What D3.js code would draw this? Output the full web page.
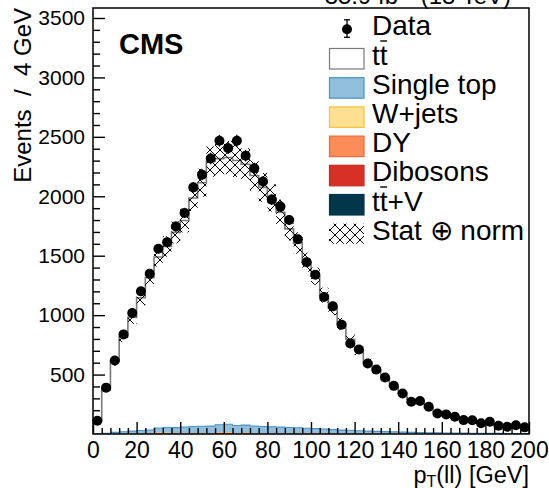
<!DOCTYPE html>
<html>
<head>
<meta charset="utf-8">
<script src="https://cdn.jsdelivr.net/npm/d3@7"></script>
<style>
  body { margin: 0; background: #fff; }
  text { font-family: "Liberation Sans", Arial, sans-serif; }
</style>
</head>
<body>
<svg id="chart" width="549" height="488"></svg>
<script>
// 50 bins of 4 GeV, 0..200
const binWidth = 4;
const xRange = [0, 200];

const dataCounts = [112, 390, 618, 838, 1018, 1200, 1348, 1558, 1614, 1745,
  1860, 2075, 2182, 2318, 2467, 2405, 2467, 2341, 2235, 2125,
  1972, 1913, 1801, 1638, 1446, 1340, 1152, 1074, 920, 761,
  711, 593, 543, 476, 405, 341, 271, 277, 229, 173,
  165, 145, 117, 115, 90, 103, 70, 61, 73, 56];

const ttbar = [113, 369, 596, 799, 957, 1117, 1282, 1439, 1523, 1642,
  1737, 1923, 2049, 2226, 2239, 2244, 2229, 2195, 2108, 2012,
  1925, 1808, 1671, 1555, 1398, 1283, 1127, 1021, 894, 766,
  675, 578, 510, 447, 384, 326, 278, 247, 210, 178,
  155, 136, 117, 104, 90, 79, 69, 61, 54, 48];

const singleTop = [2, 5, 12, 18, 22, 26, 30, 38, 45, 50,
  55, 58, 60, 62, 65, 68, 66, 64, 62, 60,
  57, 55, 52, 48, 45, 42, 38, 35, 32, 30,
  27, 24, 22, 20, 18, 16, 14, 12, 11, 10,
  9, 8, 7, 6, 6, 5, 5, 4, 4, 3];

const wjets = [0, 0, 1, 0, 1, 1, 0, 1, 1, 0,
  1, 1, 1, 0, 1, 1, 1, 0, 1, 0,
  1, 0, 0, 1, 0, 0, 1, 0, 0, 0,
  0, 0, 0, 0, 0, 0, 0, 0, 0, 0,
  0, 0, 0, 0, 0, 0, 0, 0, 0, 0];

const dy = [0, 0, 1, 1, 1, 1, 2, 9, 7, 2,
  1, 2, 2, 2, 10, 11, 3, 9, 2, 1,
  1, 1, 1, 1, 1, 1, 0, 0, 0, 0,
  0, 0, 0, 0, 0, 0, 0, 0, 0, 0,
  0, 0, 0, 0, 0, 0, 0, 0, 0, 0];

const dibosons = [0, 0, 0, 0, 0, 1, 1, 1, 1, 1,
  1, 1, 1, 1, 1, 1, 1, 1, 1, 1,
  1, 1, 1, 1, 1, 1, 1, 1, 0, 0,
  0, 0, 0, 0, 0, 0, 0, 0, 0, 0,
  0, 0, 0, 0, 0, 0, 0, 0, 0, 0];

const ttv = [0, 0, 0, 0, 0, 0, 1, 1, 1, 1,
  1, 1, 1, 1, 1, 1, 1, 1, 1, 1,
  1, 1, 1, 1, 1, 1, 1, 1, 1, 1,
  0, 0, 0, 0, 0, 0, 0, 0, 0, 0,
  0, 0, 0, 0, 0, 0, 0, 0, 0, 0];

// stat (+) norm uncertainty, absolute per bin
const systUnc = [7, 22, 34, 45, 54, 63, 72, 80, 86, 93,
  100, 110, 118, 128, 136, 140, 138, 134, 128, 121,
  114, 106, 98, 90, 80, 72, 63, 57, 49, 42,
  37, 31, 28, 24, 21, 18, 15, 13, 11, 10,
  9, 8, 7, 6, 5, 5, 4, 4, 3, 3];

const xTicks = [0, 20, 40, 60, 80, 100, 120, 140, 160, 180, 200];
const yTicks = [500, 1000, 1500, 2000, 2500, 3000, 3500];

const procKeys = ['ttv', 'dibosons', 'dy', 'wjets', 'singleTop', 'ttbar'];
const procFill = {
  ttbar: '#ffffff', singleTop: '#91bfdb', wjets: '#fee090',
  dy: '#fc8d59', dibosons: '#d73027', ttv: '#02364a'
};
const procLine = {
  ttbar: '#7a7a7a', singleTop: '#4a93c6', wjets: '#f8c23a',
  dy: '#f06a3a', dibosons: '#c62a20', ttv: '#02364a'
};
const legendEntries = [
  {kind: 'data', label: 'Data'},
  {kind: 'ttbar', label: 'tt', bar: true},
  {kind: 'singleTop', label: 'Single top'},
  {kind: 'wjets', label: 'W+jets'},
  {kind: 'dy', label: 'DY'},
  {kind: 'dibosons', label: 'Dibosons'},
  {kind: 'ttv', label: 'tt+V', bar: true},
  {kind: 'hatch', label: 'Stat \u2295 norm'}
];

const svg = d3.select('#chart');
const frame = {left: 93, right: 529, top: 8, bottom: 434};

const x = d3.scaleLinear().domain(xRange).range([frame.left, frame.right]);
const y = d3.scaleLinear().domain([0, 3584]).range([frame.bottom, frame.top]);

const binLo = d3.range(xRange[0], xRange[1], binWidth);

const defs = svg.append('defs');
const hatch = defs.append('pattern')
    .attr('id', 'hatch').attr('patternUnits', 'userSpaceOnUse')
    .attr('width', 10).attr('height', 10);
hatch.append('path').attr('d', 'M0,0L10,10M10,0L0,10M-1,9L1,11M9,-1L11,1')
    .attr('stroke', '#000').attr('stroke-width', 1).attr('fill', 'none');
defs.append('clipPath').attr('id', 'plotclip').append('rect')
    .attr('x', frame.left).attr('y', frame.top)
    .attr('width', frame.right - frame.left).attr('height', frame.bottom - frame.top);

// stack
const rows = binLo.map((lo, i) => ({
  lo, ttbar: ttbar[i], singleTop: singleTop[i], wjets: wjets[i],
  dy: dy[i], dibosons: dibosons[i], ttv: ttv[i]
}));
const layers = d3.stack().keys(procKeys)(rows);

const stepArea = d3.area()
    .curve(d3.curveStepAfter)
    .x(d => x(d.lo))
    .y0(y(0))
    .y1(d => y(d.top));
const stepLine = d3.line()
    .curve(d3.curveStepAfter)
    .x(d => x(d.lo))
    .y(d => y(d.top));

const plot = svg.append('g').attr('clip-path', 'url(#plotclip)');

// draw cumulative histograms from the top of the stack down
layers.slice().reverse().forEach(layer => {
  const pts = layer.map((d, i) => ({lo: binLo[i], top: d[1]}));
  pts.push({lo: xRange[1], top: pts[pts.length - 1].top});
  plot.append('path')
      .attr('d', stepArea(pts))
      .attr('fill', procFill[layer.key]);
  if (layer.key === 'ttbar' || layer.key === 'singleTop') {
    const edge = [{lo: xRange[0], top: 0}].concat(pts);
    plot.append('path')
        .attr('d', stepLine(edge))
        .attr('fill', 'none')
        .attr('stroke', procLine[layer.key])
        .attr('stroke-width', layer.key === 'ttbar' ? 1.6 : 1.1);
  }
});

const totals = layers[layers.length - 1].map(d => d[1]);

// uncertainty band
plot.selectAll('.band').data(binLo).enter().append('rect')
    .attr('class', 'band')
    .attr('x', d => x(d))
    .attr('width', d => x(d + binWidth) - x(d))
    .attr('y', (d, i) => y(totals[i] + systUnc[i]))
    .attr('height', (d, i) => y(totals[i] - systUnc[i]) - y(totals[i] + systUnc[i]))
    .attr('fill', 'url(#hatch)');

// data points
const pts = svg.append('g');
dataCounts.forEach((v, i) => {
  const cx = x(binLo[i] + binWidth / 2);
  const e = Math.sqrt(v);
  pts.append('line')
      .attr('x1', cx).attr('x2', cx)
      .attr('y1', y(v - e)).attr('y2', y(v + e))
      .attr('stroke', '#000').attr('stroke-width', 1.3);
  pts.append('circle').attr('cx', cx).attr('cy', y(v)).attr('r', 5).attr('fill', '#000');
});

// axes
const xMinor = d3.range(0, 201, 4).filter(v => v % 20 !== 0);
const yMinor = d3.range(100, 3584, 100).filter(v => v % 500 !== 0);

svg.append('g').attr('transform', `translate(0,${frame.bottom})`)
    .call(d3.axisBottom(x).tickValues(xMinor).tickSize(-6).tickFormat(''))
    .call(g => g.select('.domain').remove());
const xAx = svg.append('g').attr('transform', `translate(0,${frame.bottom})`)
    .call(d3.axisBottom(x).tickValues(xTicks).tickSize(-12).tickPadding(8).tickFormat(d3.format('d')))
    .call(g => g.select('.domain').remove());
xAx.selectAll('text').attr('font-size', 23).attr('fill', '#000')
    .attr('font-family', '"Liberation Sans", Arial, sans-serif');

svg.append('g').attr('transform', `translate(${frame.left},0)`)
    .call(d3.axisLeft(y).tickValues(yMinor).tickSize(-7).tickFormat(''))
    .call(g => g.select('.domain').remove());
const yAx = svg.append('g').attr('transform', `translate(${frame.left},0)`)
    .call(d3.axisLeft(y).tickValues(yTicks).tickSize(-12).tickPadding(8).tickFormat(d3.format('d')))
    .call(g => g.select('.domain').remove());
yAx.selectAll('text').attr('font-size', 21).attr('fill', '#000')
    .attr('font-family', '"Liberation Sans", Arial, sans-serif');

svg.selectAll('.tick line').attr('stroke', '#000').attr('stroke-width', 1.4);

svg.append('rect')
    .attr('x', frame.left).attr('y', frame.top)
    .attr('width', frame.right - frame.left).attr('height', frame.bottom - frame.top)
    .attr('fill', 'none').attr('stroke', '#000').attr('stroke-width', 1.5);

// titles
const xt = svg.append('text').attr('x', frame.right).attr('y', 483)
    .attr('text-anchor', 'end').attr('font-size', 23.5);
xt.append('tspan').text('p');
xt.append('tspan').attr('font-size', 16).attr('dy', 4).text('T');
xt.append('tspan').attr('dy', -4).text('(ll) [GeV]');

svg.append('text')
    .attr('transform', 'translate(31,8) rotate(-90)')
    .attr('text-anchor', 'end').attr('font-size', 24)
    .style('white-space', 'pre')
    .text('Events  /  4 GeV');

svg.append('text').attr('x', 119).attr('y', 54)
    .attr('font-size', 29).attr('font-weight', 'bold').text('CMS');

svg.append('text').attr('x', 511).attr('y', 4)
    .attr('text-anchor', 'end').attr('font-size', 24)
    .text('35.9 fb\u207B\u00B9 (13 TeV)');

// legend
const leg = svg.append('g');
const rowY = i => 29.3 + 29.2 * i;
legendEntries.forEach((d, i) => {
  const cy = rowY(i);
  if (d.kind === 'data') {
    leg.append('line').attr('x1', 347).attr('x2', 347).attr('y1', cy - 9.5).attr('y2', cy + 8)
        .attr('stroke', '#000').attr('stroke-width', 1.3);
    leg.append('line').attr('x1', 344).attr('x2', 350).attr('y1', cy - 9.5).attr('y2', cy - 9.5)
        .attr('stroke', '#000').attr('stroke-width', 1.3);
    leg.append('line').attr('x1', 344).attr('x2', 350).attr('y1', cy + 8).attr('y2', cy + 8)
        .attr('stroke', '#000').attr('stroke-width', 1.3);
    leg.append('circle').attr('cx', 347).attr('cy', cy).attr('r', 5).attr('fill', '#000');
  } else if (d.kind === 'hatch') {
    leg.append('rect').attr('x', 329).attr('y', cy - 10).attr('width', 35).attr('height', 20)
        .attr('fill', 'url(#hatch)');
  } else {
    leg.append('rect').attr('x', 329.5).attr('y', cy - 10).attr('width', 34.5).attr('height', 20.5)
        .attr('fill', procFill[d.kind]).attr('stroke', procLine[d.kind]).attr('stroke-width', 1.2);
  }
  const t = leg.append('text').attr('x', 372).attr('y', cy + 6)
      .attr('font-size', 28).text(d.label);
  if (d.bar) {
    const node = t.node();
    const s = node.getStartPositionOfChar(1);
    const w = node.getSubStringLength(1, 1);
    leg.append('line')
        .attr('x1', s.x + 0.5).attr('x2', s.x + w - 0.5)
        .attr('y1', cy - 17.5).attr('y2', cy - 17.5)
        .attr('stroke', '#000').attr('stroke-width', 1.4);
  }
});
</script>
</body>
</html>
